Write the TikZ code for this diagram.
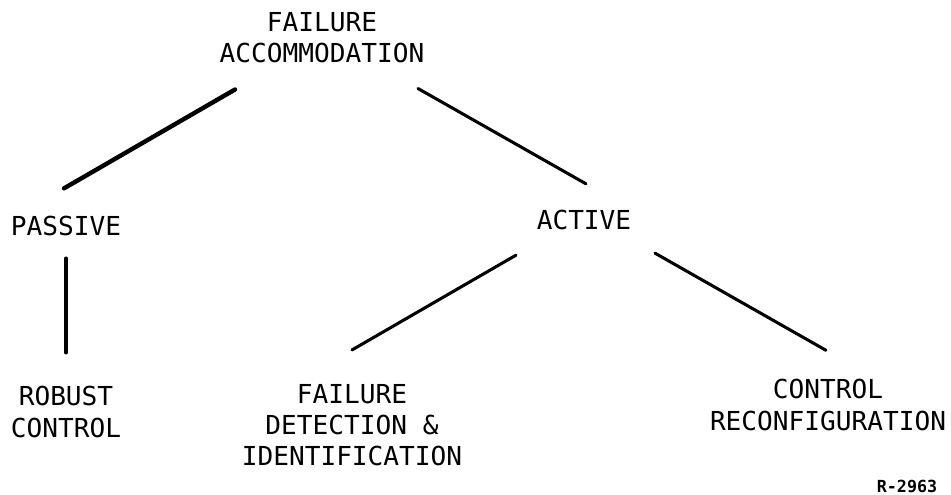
\documentclass[tikz,border=0pt]{standalone}
\usepackage{fontspec}
\setmonofont{DejaVu Sans Mono}
\usetikzlibrary{positioning}
\tikzset{x=0.75pt, y=-0.75pt,
every node/.style={ % Sets the properties for each label
inner sep=0pt,
align=center,
font=\ttfamily\fontsize{19.6}{23.3}\selectfont},
link/.style={ % Sets the properties for each branch
draw,
line cap=round,
line width=2.3pt},
heavy link/.style={
link,
line width=3.3pt}}

\begin{document}
\begin{tikzpicture}
\useasboundingbox (0,0) rectangle (951,494);
\node (fa) at (322,38) {FAILURE\\ACCOMMODATION};
\node (passive) at (66,225.5) {PASSIVE};
\node (active) at (584,220) {ACTIVE};
\node (robust) at (66,412) {ROBUST\\CONTROL};
\node (fdi) at (352,425) {FAILURE\\DETECTION \&\\IDENTIFICATION};
\node (recon) at (828,405) {CONTROL\\RECONFIGURATION};
\node[font=\ttfamily\bfseries\fontsize{12.5}{14}\selectfont] (rnum) at (907,486) {R-2963};
\draw[heavy link] ([shift={(-87,26)}]fa.south) -- ([shift={(-2,-27)}]passive.north);
\draw[link] ([shift={(96,25)}]fa.south) -- ([shift={(2,-26)}]active.north);
\draw[heavy link] ([shift={(0,23)}]passive.south) -- ([shift={(0,-34)}]robust.north);
\draw[link] ([shift={(-68,25)}]active.south) -- ([shift={(0,-34)}]fdi.north);
\draw[link] ([shift={(71,23)}]active.south) -- ([shift={(-2,-29)}]recon.north);
\end{tikzpicture}
\end{document}
